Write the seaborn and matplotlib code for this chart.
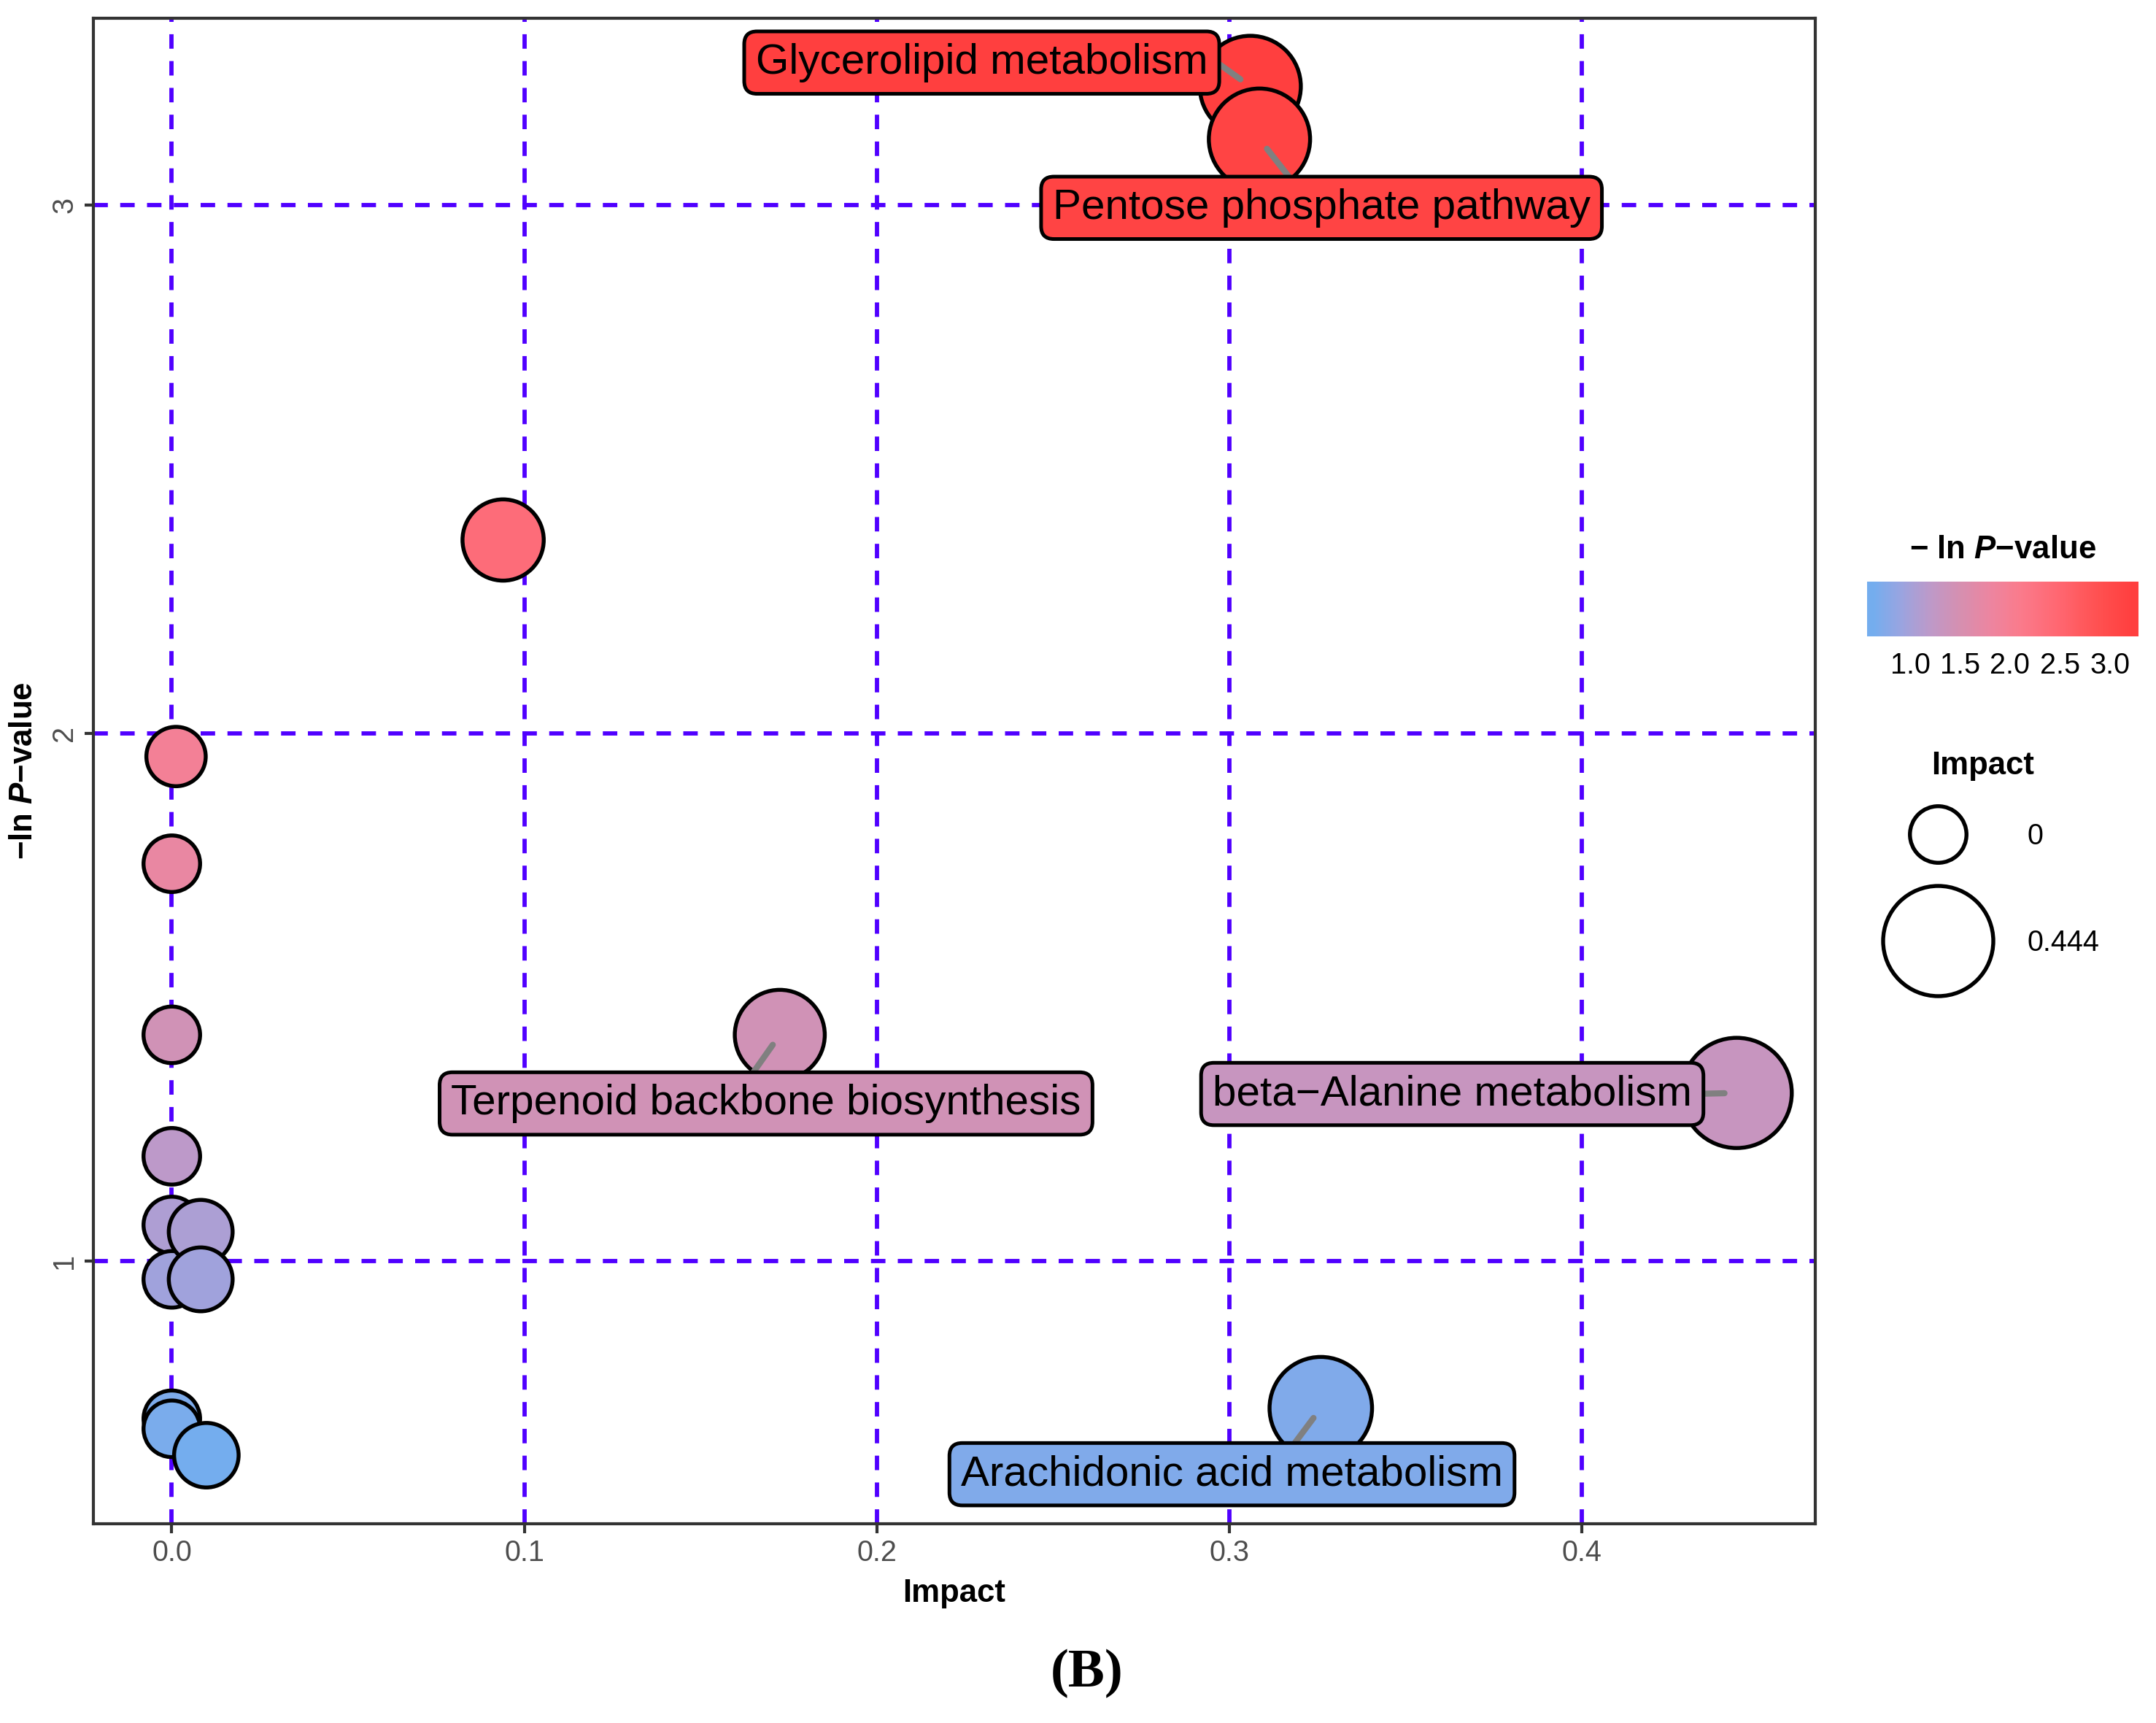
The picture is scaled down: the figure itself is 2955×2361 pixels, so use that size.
import numpy as np
import pandas as pd
import matplotlib
matplotlib.use("Agg")
import matplotlib.pyplot as plt
import seaborn as sns
from matplotlib.colors import ListedColormap, LinearSegmentedColormap, Normalize
from matplotlib.lines import Line2D
import matplotlib.cm as mcm

# ---------------- data ----------------
pathway = ["", "", "", "", "", "", "", "", "", "", "",
           "", "Terpenoid backbone biosynthesis", "beta\u2212Alanine metabolism",
           "Arachidonic acid metabolism", "Glycerolipid metabolism",
           "Pentose phosphate pathway"]
impact = [0.0012, 0.0, 0.0, 0.0, 0.0, 0.0, 0.0082, 0.0082, 0.0, 0.0, 0.0098,
          0.094, 0.1725, 0.444, 0.326, 0.306, 0.3086]
neglogp = [1.956, 1.753, 1.429, 1.199, 1.069, 0.966, 1.056, 0.966, 0.702, 0.683, 0.633,
           2.366, 1.429, 1.319, 0.722, 3.225, 3.125]

label_names = ["Glycerolipid metabolism", "Pentose phosphate pathway",
               "Terpenoid backbone biosynthesis", "beta\u2212Alanine metabolism",
               "Arachidonic acid metabolism"]
label_x = [0.2298, 0.3262, 0.1686, 0.3633, 0.3008]
label_y = [3.270, 2.995, 1.299, 1.317, 0.597]
label_relpos = [(1.0, 0.67), (0.456, 1.0), (0.467, 1.0), (1.0, 0.5), (0.60, 1.0)]

x_ticks = [0.0, 0.1, 0.2, 0.3, 0.4]
y_ticks = [1, 2, 3]
cbar_ticks = [1.0, 1.5, 2.0, 2.5, 3.0]
size_legend_values = [0.0, 0.444]
size_legend_labels = ["0", "0.444"]

# colour gradient stops (value, colour)
grad_values = [0.60, 0.90, 1.20, 1.50, 1.80, 2.10, 2.50, 2.90, 3.25]
grad_colors = ["#70AEF0", "#9AA4E0", "#BE99C8", "#D68FB0", "#EC85A0",
               "#FA7B8C", "#FF6670", "#FF5050", "#FF3E3E"]

df = pd.DataFrame({"Pathway": pathway, "Impact": impact, "neglogp": neglogp})

# ---------------- style ----------------
sns.set_style("ticks")
plt.rcParams["font.family"] = ["Liberation Sans", "DejaVu Sans"]
plt.rcParams["text.color"] = "black"
plt.rcParams["axes.labelcolor"] = "black"
plt.rcParams["mathtext.fontset"] = "custom"
plt.rcParams["mathtext.it"] = "Liberation Sans:italic:bold"
plt.rcParams["mathtext.rm"] = "Liberation Sans:bold"
plt.rcParams["mathtext.bf"] = "Liberation Sans:bold"

vmin, vmax = min(neglogp), max(neglogp)
gv = np.array(grad_values)


def grad_at(v):
    """colour at data value v (piecewise linear between stops)."""
    pos = (gv - gv[0]) / (gv[-1] - gv[0])
    base = LinearSegmentedColormap.from_list("g", list(zip(pos, grad_colors)))
    t = (np.clip(np.asarray(v, dtype=float), gv[0], gv[-1]) - gv[0]) / (gv[-1] - gv[0])
    return base(t)


cmap = ListedColormap(grad_at(np.linspace(vmin, vmax, 256)))
norm = Normalize(vmin, vmax)

# size mapping (ggplot-like: radius linear in sqrt(value))
PX2PT = 0.4523
r0, r1 = 22 * PX2PT - 0.65, 41.5 * PX2PT - 0.65
imax = max(impact)


def area(v):
    r = r0 + (r1 - r0) * np.sqrt(v / imax)
    return (2 * r) ** 2


sizes = {v: area(v) for v in df["Impact"].unique()}

# ---------------- figure ----------------
fig = plt.figure(figsize=(2955 / 300, 2361 / 300), dpi=300)
ax = fig.add_axes([0.0434, 0.1157, 0.7984, 0.8739])

sns.scatterplot(data=df, x="Impact", y="neglogp", hue="neglogp", palette=cmap,
                hue_norm=(vmin, vmax), size="Impact", sizes=sizes,
                edgecolor="black", linewidth=1.3, legend=False, zorder=3, ax=ax)

xspan = max(impact) - min(impact)
yspan = vmax - vmin
ax.set_xlim(min(impact) - 0.05 * xspan, max(impact) + 0.05 * xspan)
ax.set_ylim(vmin - 0.05 * yspan, vmax + 0.05 * yspan)
ax.set_xticks(x_ticks)
ax.set_xticklabels([f"{v:.1f}" for v in x_ticks])
ax.set_yticks(y_ticks)
ax.set_yticklabels([str(v) for v in y_ticks])

ax.set_axisbelow(True)
ax.grid(True, color="#5000FF", lw=1.4, linestyle=(0, (3.4, 2.9)))
for s in ax.spines.values():
    s.set_color("#333333")
    s.set_linewidth(1.0)
ax.tick_params(axis="both", direction="out", length=3, width=1, color="#333333",
               labelcolor="#4D4D4D", labelsize=9.5, pad=2)
ax.tick_params(axis="y", labelrotation=90)
for t in ax.get_yticklabels():
    t.set_va("center")

ax.set_xlabel("Impact", fontsize=10.5, fontweight="bold", labelpad=4)
ax.set_ylabel("\u2212ln $\\mathit{P}$\u2212value", fontsize=10.5, fontweight="bold", labelpad=4)

# labels (ggrepel-like)
for name, lx, ly, rp in zip(label_names, label_x, label_y, label_relpos):
    row = df[df["Pathway"] == name].iloc[0]
    col = cmap(norm(row["neglogp"]))
    ax.annotate(name, xy=(row["Impact"], row["neglogp"]), xytext=(lx, ly),
                textcoords="data", ha="center", va="center", fontsize=14,
                color="black",
                bbox=dict(boxstyle="round,pad=0.27,rounding_size=0.3", fc=col,
                          ec="black", lw=1.2),
                arrowprops=dict(arrowstyle="-", color="#808080", lw=2.0,
                                shrinkA=0, shrinkB=4, relpos=rp),
                zorder=5, annotation_clip=False)

# ---------------- colour bar ----------------
cb_lo, cb_hi = vmin - 0.065, vmax + 0.065
cb_cmap = ListedColormap(grad_at(np.clip(np.linspace(cb_lo, cb_hi, 256), vmin, vmax)))
cax = fig.add_axes([0.866, 0.6305, 0.126, 0.032])
sm = mcm.ScalarMappable(norm=Normalize(cb_lo, cb_hi), cmap=cb_cmap)
cb = fig.colorbar(sm, cax=cax, orientation="horizontal")
cb.outline.set_visible(False)
cb.set_ticks(cbar_ticks)
cb.set_ticklabels([f"{v:.1f}" for v in cbar_ticks])
cax.xaxis.set_ticks_position("both")
cax.tick_params(axis="x", direction="in", color="white", length=4, width=1.0,
                labelsize=9.5, labelcolor="black", pad=5, labeltop=False, labelbottom=True)
fig.text(0.929, 0.681, "\u2212 ln $\\mathit{P}$\u2212value", ha="center", va="center",
         fontsize=10.5, fontweight="bold")

# ---------------- size legend ----------------
fig.text(0.9196, 0.5555, "Impact", ha="center", va="center", fontsize=10.5,
         fontweight="bold")
handles = [Line2D([], [], ls="", marker="o", markersize=np.sqrt(area(v)),
                  markerfacecolor="white", markeredgecolor="black",
                  markeredgewidth=1.3) for v in size_legend_values]
leg = fig.legend(handles=handles, labels=size_legend_labels, loc="upper left",
                 bbox_to_anchor=(0.872, 0.5228), bbox_transform=fig.transFigure,
                 frameon=False, fontsize=9.5, borderpad=0, borderaxespad=0,
                 handlelength=4, handletextpad=1.1, labelspacing=2.74)

fig.text(0.504, 0.0287, "(B)", ha="center", va="center", fontsize=18,
         fontweight="bold", family="Liberation Serif")

fig.savefig("out.png", dpi=300)
